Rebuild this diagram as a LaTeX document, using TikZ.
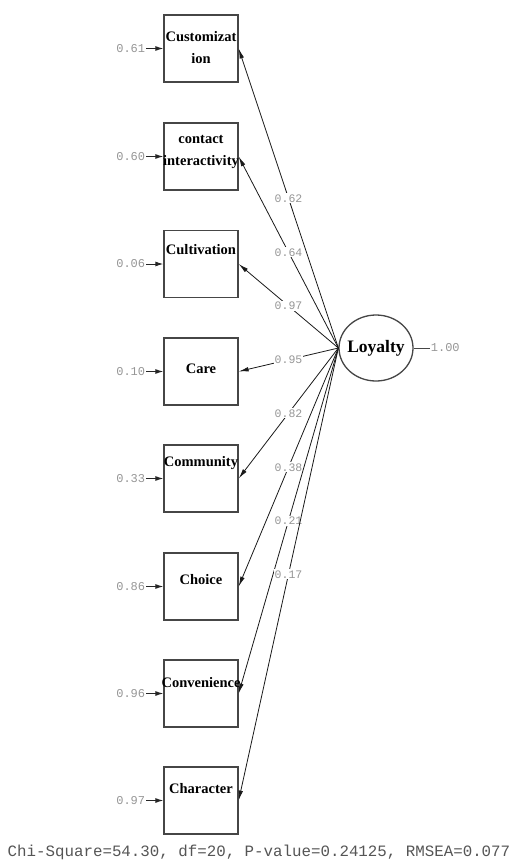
\documentclass[tikz,border=0pt]{standalone}
\usepackage{fontspec}
\setmainfont{Liberation Serif}
\setmonofont{Liberation Mono}
\usetikzlibrary{positioning, shapes, arrows.meta, calc}
\definecolor{LisGray}{RGB}{150,150,150}
\definecolor{LisLine}{RGB}{70,70,70}
\definecolor{LisText}{RGB}{85,85,85}

\begin{document}
\begin{tikzpicture}[x=1pt, y=-1pt,
  obs/.style={rectangle, draw=LisLine, line width=1.3pt, fill=white, minimum width=74pt, minimum height=67pt, inner sep=0pt},
  obstext/.style={font=\fontsize{14.5}{22}\selectfont\bfseries, align=center, inner sep=0pt},
  lat/.style={ellipse, draw=LisLine, line width=1.3pt, fill=white, minimum width=74pt, minimum height=66pt, inner sep=-6pt, font=\fontsize{17.5}{19}\selectfont\bfseries},
  errlab/.style={font=\fontsize{12}{13}\selectfont\ttfamily, text=LisGray, inner sep=1pt},
  coef/.style={font=\fontsize{11.5}{12}\selectfont\ttfamily, text=LisGray, fill=white, inner sep=1pt},
  errarrow/.style={-{Latex[length=8pt,width=5pt]}, line width=1pt, black!85},
  load/.style={-{Latex[length=10pt,width=4.5pt]}, line width=0.8pt, black!90}
]
\useasboundingbox (0,0) rectangle (515,868);

% Observed variables
\node[obs] (cust) at (201,48.5) {};
\node[obs] (cont) at (201,156.5) {};
\node[obs] (cult) at (201,264) {};
\node[obs] (care) at (201,371.5) {};
\node[obs] (comm) at (201,478.5) {};
\node[obs] (choi) at (201,586.5) {};
\node[obs] (conv) at (201,693.5) {};
\node[obs] (char) at (201,800.5) {};

\node[obstext] (cust-t) at ([yshift=1pt]cust.center) {Customizat\\ion};
\node[obstext] (cont-t) at ([yshift=5pt]cont.center) {contact\\interactivity};
\node[obstext] (cult-t) at ([yshift=14pt]cult.center) {Cultivation};
\node[obstext] (care-t) at ([yshift=3pt]care.center) {Care};
\node[obstext] (comm-t) at ([yshift=15pt]comm.center) {Community};
\node[obstext] (choi-t) at ([yshift=7pt]choi.center) {Choice};
\node[obstext] (conv-t) at ([yshift=11pt]conv.center) {Convenience};
\node[obstext] (char-t) at ([yshift=12pt]char.center) {Character};

% Latent variable
\node[lat] (loy) at (376,348) {Loyalty};
\node[errlab, right=16pt of loy] (loy-v) {1.00};
\draw[line width=0.9pt, LisLine] (loy-v) -- (loy);

% Error variances
\node[errlab, left=17pt of cust] (e1) {0.61};
\node[errlab, left=17pt of cont] (e2) {0.60};
\node[errlab, left=17pt of cult] (e3) {0.06};
\node[errlab, left=17pt of care] (e4) {0.10};
\node[errlab, left=17pt of comm] (e5) {0.33};
\node[errlab, left=17pt of choi] (e6) {0.86};
\node[errlab, left=17pt of conv] (e7) {0.96};
\node[errlab, left=17pt of char] (e8) {0.97};
\draw[errarrow] (e1) -- (cust);
\draw[errarrow] (e2) -- (cont);
\draw[errarrow] (e3) -- (cult);
\draw[errarrow] (e4) -- (care);
\draw[errarrow] (e5) -- (comm);
\draw[errarrow] (e6) -- (choi);
\draw[errarrow] (e7) -- (conv);
\draw[errarrow] (e8) -- (char);

% Loadings
\draw[load] (loy.west) -- node[coef] {0.62} (cust.east);
\draw[load] (loy.west) -- node[coef] {0.64} (cont.east);
\draw[load] (loy.west) -- node[coef] {0.97} (cult.east);
\draw[load] (loy.west) -- node[coef] {0.95} (care.east);
\draw[load] (loy.west) -- node[coef] {0.82} (comm.east);
\draw[load] (loy.west) -- node[coef] {0.38} (choi.east);
\draw[load] (loy.west) -- node[coef] {0.21} (conv.east);
\draw[load] (loy.west) -- node[coef] {0.17} (char.east);

% Fit statistics
\node[font=\fontsize{15.8}{18}\selectfont\ttfamily, text=LisText] (fit) at (259,852) {Chi-Square=54.30, df=20, P-value=0.24125, RMSEA=0.077};

\end{tikzpicture}
\end{document}
